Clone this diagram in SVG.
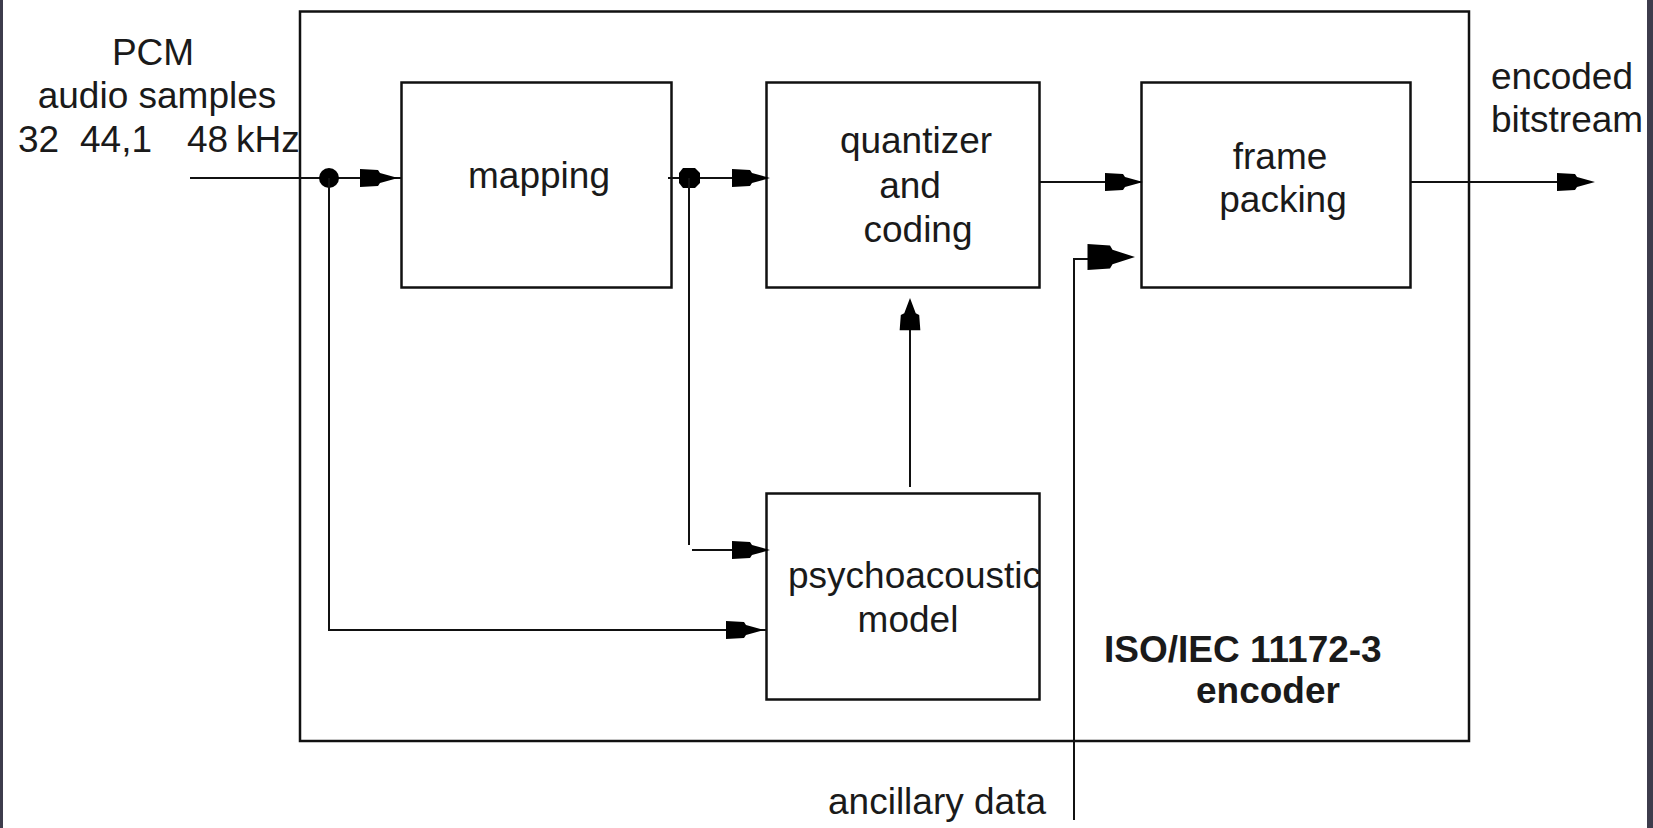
<svg xmlns="http://www.w3.org/2000/svg" width="1653" height="828" viewBox="0 0 1653 828">
<style>
.box{fill:#fff;stroke:#111;stroke-width:2.5}
.ln{fill:none;stroke:#111;stroke-width:2}
.t{font-family:"Liberation Sans",Arial,sans-serif;font-size:37px;fill:#1a1a1a}
.c{text-anchor:middle}
.b{font-weight:bold}
.ah{fill:#000}
</style>
<defs>
<path id="arr" d="M0,0 L-18,-5 L-20,-8 L-38,-9 L-38,9 L-20,8 L-18,5 Z"/>
<clipPath id="clipPsy"><rect x="767" y="494" width="273" height="206"/></clipPath>
</defs>
<rect x="0" y="0" width="1653" height="828" fill="#fff"/>
<rect x="0" y="0" width="3" height="828" fill="#3d3c4c"/>
<rect x="1647" y="0" width="6" height="828" fill="#3d3c4c"/>

<g id="encoder">
<rect class="box" x="300" y="11.5" width="1169" height="729.5"/>
<text class="t b" x="1104" y="662">ISO/IEC 11172-3</text>
<text class="t b" x="1196" y="703">encoder</text>
</g>

<g id="mapping">
<rect class="box" x="401.5" y="82.5" width="270" height="205"/>
<text class="t c" x="539" y="188">mapping</text>
</g>

<g id="quantizer">
<rect class="box" x="766.5" y="82.5" width="273" height="205"/>
<text class="t c" x="916" y="153">quantizer</text>
<text class="t c" x="910" y="198">and</text>
<text class="t c" x="918" y="242">coding</text>
</g>

<g id="framepacking">
<rect class="box" x="1141.5" y="82.5" width="269" height="205"/>
<text class="t c" x="1280" y="169">frame</text>
<text class="t c" x="1283" y="212">packing</text>
</g>

<g id="psychoacoustic">
<rect class="box" x="766.5" y="493.5" width="273" height="206"/>
<text class="t" x="788" y="588" clip-path="url(#clipPsy)">psychoacoustic</text>
<text class="t c" x="908" y="632">model</text>
</g>

<g id="labels">
<text class="t c" x="153" y="65">PCM</text>
<text class="t c" x="157" y="108">audio samples</text>
<text class="t" y="152"><tspan x="18">32</tspan><tspan x="80">44,1</tspan><tspan x="187">48</tspan><tspan x="236">kHz</tspan></text>
<text class="t" x="1491" y="89">encoded</text>
<text class="t" x="1491" y="132">bitstream</text>
<text class="t" x="828" y="814">ancillary data</text>
</g>

<g id="connectors">
<path class="ln" d="M190,178 H401"/>
<circle cx="329" cy="178" r="10" fill="#000"/>
<path class="ln" d="M329,178 V630 H767"/>
<path class="ln" d="M668,178 H767"/>
<polygon points="683,168 695,168 700,173 700,183 695,188 683,188 679,183 679,173" fill="#000"/>
<path class="ln" d="M689,178 V545"/>
<path class="ln" d="M692,550 H767"/>
<path class="ln" d="M1040,182 H1141"/>
<path class="ln" d="M910,487 V320"/>
<path class="ln" d="M1074,820 V259 H1092"/>
<path class="ln" d="M1410,182 H1565"/>
<use href="#arr" class="ah" transform="translate(398,178)"/>
<use href="#arr" class="ah" transform="translate(770,178)"/>
<use href="#arr" class="ah" transform="translate(1143,182)"/>
<use href="#arr" class="ah" transform="translate(770,550)"/>
<use href="#arr" class="ah" transform="translate(764,630)"/>
<use href="#arr" class="ah" transform="translate(1595,182)"/>
<use href="#arr" class="ah" transform="translate(910,298) rotate(-90) scale(0.85,1.15)"/>
<use href="#arr" class="ah" transform="translate(1135,257) scale(1.25,1.45)"/>
</g>
</svg>
